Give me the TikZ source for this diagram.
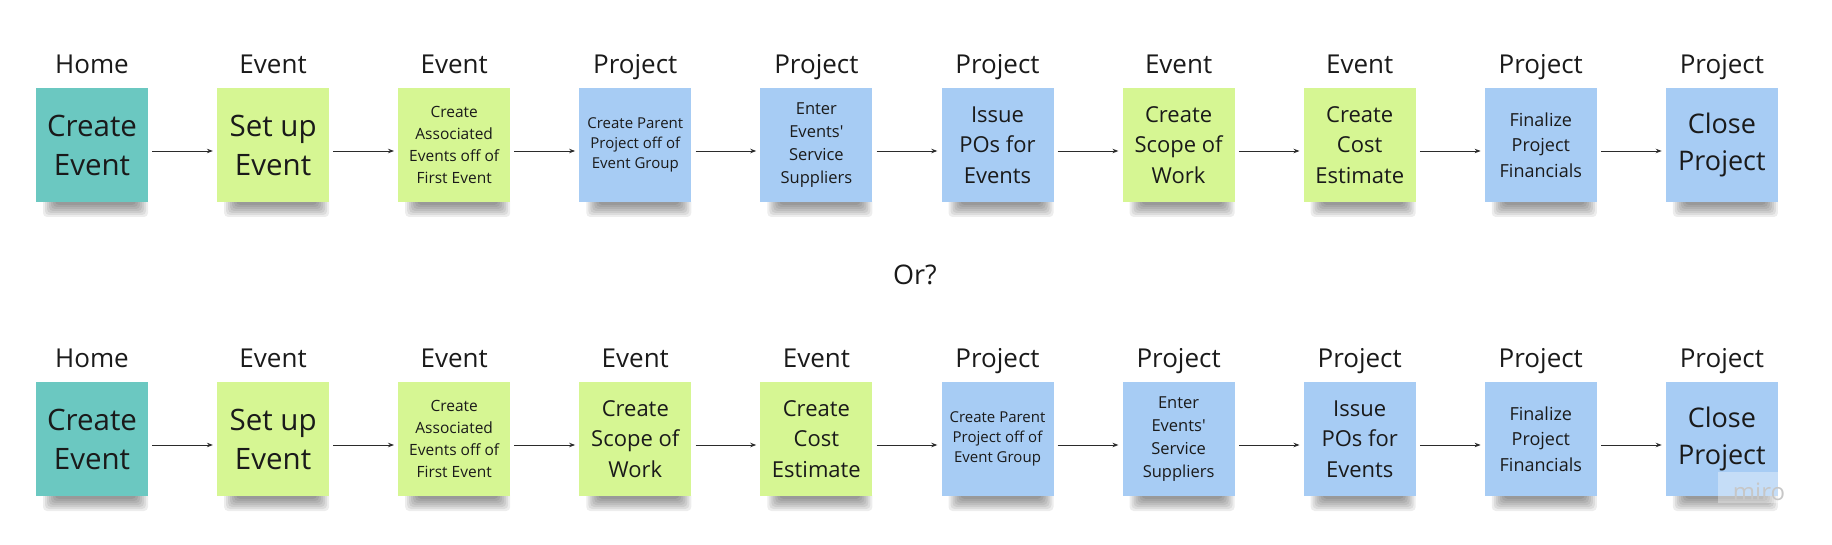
\documentclass[tikz,border=0pt]{standalone}
\usepackage{fontspec}
\setmainfont{Open Sans}
\usetikzlibrary{arrows.meta}
\definecolor{noteteal}{HTML}{6BC8C1}
\definecolor{notegreen}{HTML}{D6F693}
\definecolor{noteblue}{HTML}{A7CCF4}
\definecolor{textc}{HTML}{1A1A1A}
\definecolor{linec}{HTML}{2B2B2B}
\begin{document}
\begin{tikzpicture}[x=1pt,y=-1pt,
  note/.style={minimum width=112pt, minimum height=114pt, inner sep=0pt, align=center, text=textc},
  hdr/.style={inner sep=0pt, anchor=base, text=textc, font=\fontsize{26}{30}\selectfont},
  fbig/.style={font=\fontsize{29.5}{39}\selectfont},
  fclose/.style={font=\fontsize{27}{37}\selectfont},
  fmed/.style={font=\fontsize{22}{30.3}\selectfont},
  ffin/.style={font=\fontsize{18}{25.5}\selectfont},
  fenter/.style={font=\fontsize{16.5}{23.2}\selectfont},
  fsm/.style={font=\fontsize{15.5}{21.7}\selectfont},
  fsmm/.style={font=\fontsize{15}{20.3}\selectfont},
  conn/.style={draw=linec, line width=0.9pt, -{Stealth[length=6pt,width=4.5pt]}, shorten <=4pt, shorten >=4pt},
  shadowpiece/.style={fill=black, opacity=0.07, rounded corners=4pt}
]
\useasboundingbox (0,0) rectangle (1832,545);

% top row
\foreach \i/\hd/\col/\fs/\txt in {
  0/Home/noteteal/fbig/{Create\\Event},
  1/Event/notegreen/fbig/{Set up\\Event},
  2/Event/notegreen/fsm/{Create\\Associated\\Events off of\\First Event},
  3/Project/noteblue/fsmm/{Create Parent\\Project off of\\Event Group},
  4/Project/noteblue/fenter/{Enter\\Events\textquotesingle\\Service\\Suppliers},
  5/Project/noteblue/fmed/{Issue\\POs for\\Events},
  6/Event/notegreen/fmed/{Create\\Scope of\\Work},
  7/Event/notegreen/fmed/{Create\\Cost\\Estimate},
  8/Project/noteblue/ffin/{Finalize\\Project\\Financials},
  9/Project/noteblue/fclose/{Close\\Project}}
{
  \pgfmathsetmacro\xx{36+181.1*\i}
  \foreach \k in {0,...,6}
    \fill[shadowpiece] (\xx+7+2*\k, 198) rectangle (\xx+112-2*\k, 217-2*\k);
  \node[note, fill=\col, \fs] (t\i) at (\xx+56, 145) {\txt};
  \node[hdr] (th\i) at (\xx+56, 74) {\hd};
}

% bottom row
\foreach \i/\hd/\col/\fs/\txt in {
  0/Home/noteteal/fbig/{Create\\Event},
  1/Event/notegreen/fbig/{Set up\\Event},
  2/Event/notegreen/fsm/{Create\\Associated\\Events off of\\First Event},
  3/Event/notegreen/fmed/{Create\\Scope of\\Work},
  4/Event/notegreen/fmed/{Create\\Cost\\Estimate},
  5/Project/noteblue/fsmm/{Create Parent\\Project off of\\Event Group},
  6/Project/noteblue/fenter/{Enter\\Events\textquotesingle\\Service\\Suppliers},
  7/Project/noteblue/fmed/{Issue\\POs for\\Events},
  8/Project/noteblue/ffin/{Finalize\\Project\\Financials},
  9/Project/noteblue/fclose/{Close\\Project}}
{
  \pgfmathsetmacro\xx{36+181.1*\i}
  \foreach \k in {0,...,6}
    \fill[shadowpiece] (\xx+7+2*\k, 492) rectangle (\xx+112-2*\k, 511-2*\k);
  \node[note, fill=\col, \fs] (b\i) at (\xx+56, 439) {\txt};
  \node[hdr] (bh\i) at (\xx+56, 368) {\hd};
}

% connectors
\foreach \i [evaluate=\i as \j using int(\i+1)] in {0,...,8} {
  \draw[conn] ([yshift=-6pt]t\i.east) -- ([yshift=-6pt]t\j.west);
  \draw[conn] ([yshift=-6pt]b\i.east) -- ([yshift=-6pt]b\j.west);
}

\node[hdr, anchor=center, font=\fontsize{27}{32}\selectfont] (or) at (915, 275) {Or?};

% watermark
\fill[white, opacity=0.35] (1718,472) rectangle (1779,503);
\node[inner sep=0pt, text=black!22, font=\fontsize{24}{28}\selectfont] (miro) at (1759, 492) {miro};
\end{tikzpicture}
\end{document}
